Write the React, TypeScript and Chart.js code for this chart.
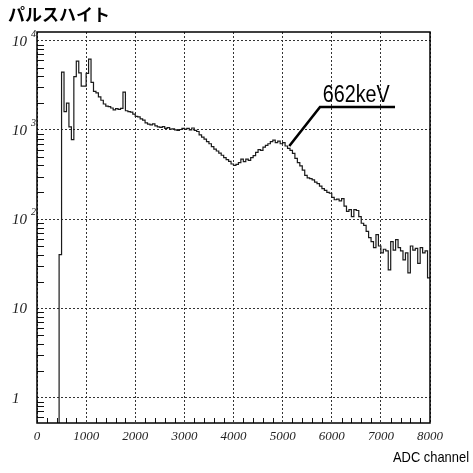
import React, { useEffect, useRef } from 'react';
import { Chart, registerables } from 'chart.js';

Chart.register(...registerables);

// Pulse-height spectrum: counts per 50-channel ADC bin, 0 .. 8000
const BIN_WIDTH = 50;
const COUNTS = [
  0, 0, 0, 0, 0, 0, 0, 0, 0, 40,
  4450, 1600, 2000, 1080, 780, 3950, 5900, 4350, 3100, 3100,
  4300, 6200, 3400, 2700, 2600, 2350, 2150, 1950, 1850, 1820,
  1760, 1680, 1730, 1700, 1740, 2650, 1640, 1600, 1580, 1500,
  1420, 1400, 1330, 1290, 1200, 1160, 1140, 1170, 1110, 1080,
  1070, 1090, 1040, 1060, 1020, 1030, 1000, 990, 1010, 1040,
  1020, 1040, 1000, 1050, 990, 960, 880, 830, 790, 740,
  700, 650, 610, 580, 550, 520, 490, 465, 445, 415,
  400, 410, 430, 470, 440, 470, 455, 490, 515, 560,
  600, 590, 640, 670, 700, 740, 770, 720, 750, 700,
  720, 660, 620, 590, 545, 480, 430, 395, 355, 310,
  290, 285, 275, 260, 250, 235, 220, 210, 200, 195,
  175, 165, 168, 160, 170, 140, 122, 128, 107, 128,
  125, 107, 90, 85, 73, 62, 56, 48, 67, 50,
  42, 46, 44, 27, 56, 45, 59, 48, 44, 35,
  42, 25, 50, 45, 47, 32, 48, 42, 44, 22,
];

const X_MIN = 0;
const X_MAX = 8000;
const X_MAJOR_STEP = 1000;
const X_MINOR_STEP = 200;
const Y_MIN = 0.52;
const Y_MAX = 12500;
const Y_DECADES = [0, 1, 2, 3, 4];

const TITLE = 'パルスハイト';
const X_TITLE = 'ADC channel';
const PEAK_LABEL = '662keV';
// leader line for the photopeak label, in (channel, counts)
const PEAK_TIP = { x: 5136, y: 661 };
const PEAK_ELBOW = { x: 5761, y: 1807 };
const PEAK_END_X = 7288;
const PEAK_TEXT = { x: 5816, y: 2074 };

// zero-count bins sit below the log axis and are clipped away
const LOG_FLOOR = Y_MIN / 10;

const histogramPoints = [
  ...COUNTS.map((c, i) => ({ x: i * BIN_WIDTH, y: c > 0 ? c : LOG_FLOOR })),
  { x: COUNTS.length * BIN_WIDTH, y: COUNTS[COUNTS.length - 1] > 0 ? COUNTS[COUNTS.length - 1] : LOG_FLOOR },
];

const isDecade = (v: number) => {
  if (!(v > 0)) return false;
  const e = Math.log10(v);
  return Math.abs(e - Math.round(e)) < 1e-6;
};

const decorations = {
  id: 'decorations',
  afterDraw(chart: any) {
    const { ctx, chartArea: a, scales } = chart;
    const xs = scales.x;
    const ys = scales.y;
    ctx.save();

    // minor ticks on the left axis (inside the frame)
    ctx.strokeStyle = '#111';
    ctx.lineWidth = 1;
    ctx.beginPath();
    const dLo = Math.floor(Math.log10(Y_MIN));
    const dHi = Math.ceil(Math.log10(Y_MAX));
    for (let d = dLo; d <= dHi; d++) {
      for (let k = 2; k <= 9; k++) {
        const v = k * Math.pow(10, d);
        if (v <= Y_MIN || v >= Y_MAX) continue;
        const py = Math.round(ys.getPixelForValue(v)) + 0.5;
        ctx.moveTo(a.left, py);
        ctx.lineTo(a.left + 7, py);
      }
    }
    // minor ticks on the bottom axis
    for (let c = X_MIN + X_MINOR_STEP; c < X_MAX; c += X_MINOR_STEP) {
      if (c % X_MAJOR_STEP === 0) continue;
      const px = Math.round(xs.getPixelForValue(c)) + 0.5;
      ctx.moveTo(px, a.bottom);
      ctx.lineTo(px, a.bottom - 5);
    }
    ctx.stroke();

    // frame
    ctx.lineWidth = 1.5;
    ctx.strokeStyle = '#000';
    ctx.strokeRect(a.left, a.top, a.right - a.left, a.bottom - a.top);

    // y labels: 1, 10, 10^2 ...
    ctx.fillStyle = '#222';
    ctx.textAlign = 'left';
    ctx.textBaseline = 'middle';
    for (const d of Y_DECADES) {
      const py = ys.getPixelForValue(Math.pow(10, d));
      const base = d === 0 ? '1' : '10';
      ctx.font = 'italic 15px "Liberation Serif", serif';
      ctx.fillText(base, 12, py + 1);
      if (d >= 2) {
        const w = ctx.measureText(base).width;
        ctx.font = 'italic 10px "Liberation Serif", serif';
        ctx.fillText(String(d), 12 + w + 4, py - 6.5);
      }
    }

    // title
    ctx.fillStyle = '#000';
    ctx.font = 'bold 17px "Noto Sans CJK JP", sans-serif';
    ctx.textBaseline = 'middle';
    ctx.fillText(TITLE, 8, 15);

    // x-axis title, right aligned, slightly condensed
    ctx.save();
    ctx.font = '15px "Liberation Sans", Arial, sans-serif';
    ctx.textBaseline = 'alphabetic';
    ctx.textAlign = 'right';
    ctx.translate(469, 462);
    ctx.scale(0.86, 1);
    ctx.fillText(X_TITLE, 0, 0);
    ctx.restore();

    // photopeak label with leader line
    const tx = xs.getPixelForValue(PEAK_TIP.x);
    const ty = ys.getPixelForValue(PEAK_TIP.y);
    const ex = xs.getPixelForValue(PEAK_ELBOW.x);
    const ey = ys.getPixelForValue(PEAK_ELBOW.y);
    const endX = xs.getPixelForValue(PEAK_END_X);
    ctx.strokeStyle = '#000';
    ctx.lineWidth = 2.6;
    ctx.lineCap = 'butt';
    ctx.beginPath();
    ctx.moveTo(tx, ty);
    ctx.lineTo(ex, ey);
    ctx.lineTo(endX, ey);
    ctx.stroke();

    ctx.save();
    ctx.font = '23px "Liberation Sans", Arial, sans-serif';
    ctx.textAlign = 'left';
    ctx.textBaseline = 'alphabetic';
    ctx.translate(xs.getPixelForValue(PEAK_TEXT.x), ys.getPixelForValue(PEAK_TEXT.y));
    ctx.scale(0.86, 1);
    ctx.fillText(PEAK_LABEL, 0, 0);
    ctx.restore();

    ctx.restore();
  },
};

export default function App() {
  const canvasRef = useRef<HTMLCanvasElement>(null);

  useEffect(() => {
    if (!canvasRef.current) return;
    const chart = new Chart(canvasRef.current, {
      type: 'line',
      data: {
        datasets: [
          {
            data: histogramPoints,
            stepped: 'before',
            borderColor: '#1a1a1a',
            borderWidth: 1.2,
            pointRadius: 0,
            fill: false,
            tension: 0,
          },
        ],
      },
      options: {
        animation: false,
        responsive: false,
        devicePixelRatio: 1,
        layout: { padding: { top: 32, right: 43, bottom: 0, left: 0 } },
        plugins: {
          legend: { display: false },
          tooltip: { enabled: false },
          title: { display: false },
        },
        scales: {
          x: {
            type: 'linear',
            min: X_MIN,
            max: X_MAX,
            ticks: {
              stepSize: X_MAJOR_STEP,
              autoSkip: false,
              maxRotation: 0,
              padding: 6,
              color: '#222',
              font: { family: '"Liberation Serif", serif', style: 'italic', size: 13 },
              callback: (v: any) => String(v),
            },
            grid: { color: '#333', lineWidth: 1, drawTicks: false },
            border: { display: false, dash: [2, 2] },
            afterFit: (s: any) => {
              s.height = 50;
            },
          },
          y: {
            type: 'logarithmic',
            min: Y_MIN,
            max: Y_MAX,
            ticks: { display: false },
            grid: {
              color: (c: any) => (c.tick && isDecade(c.tick.value) ? '#333' : 'rgba(0,0,0,0)'),
              lineWidth: 1,
              drawTicks: false,
            },
            border: { display: false, dash: [2, 2] },
            afterFit: (s: any) => {
              s.width = 37;
            },
          },
        },
      },
      plugins: [decorations],
    } as any);
    return () => chart.destroy();
  }, []);

  return (
    <div style={{ position: 'fixed', left: 0, top: 0, width: 473, height: 473, background: '#fff' }}>
      <canvas ref={canvasRef} width={473} height={473} style={{ display: 'block' }} />
    </div>
  );
}
